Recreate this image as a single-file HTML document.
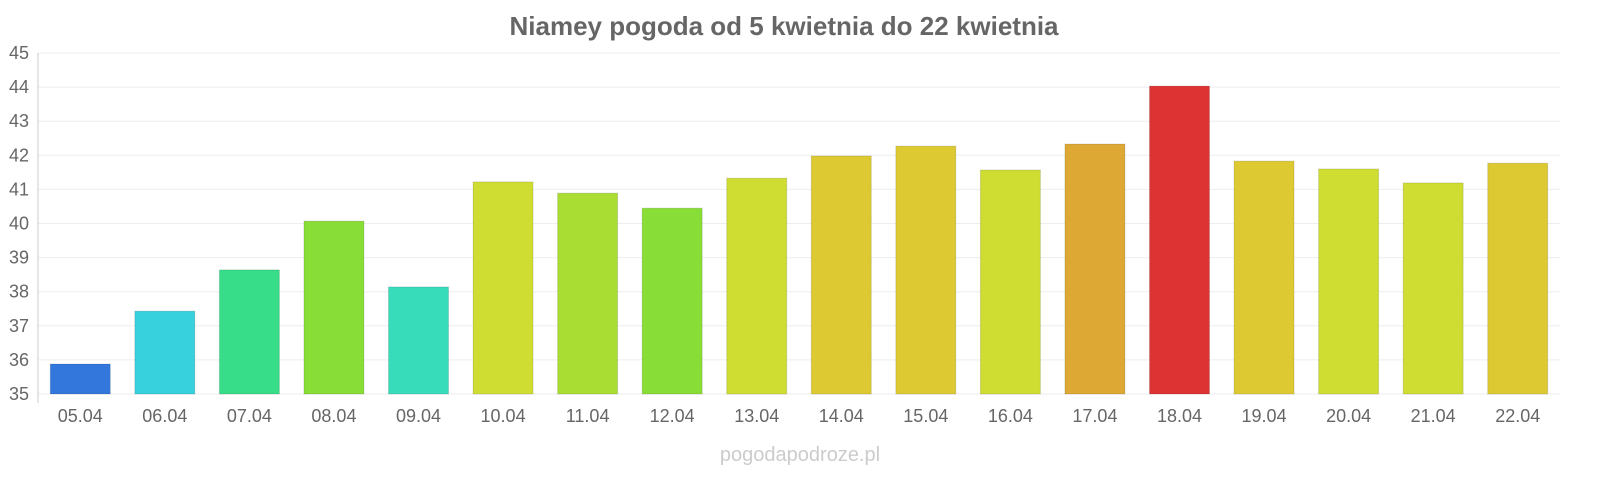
<!DOCTYPE html>
<html><head><meta charset="utf-8"><style>
body{margin:0;background:#fff;width:1600px;height:480px;overflow:hidden;font-family:"Liberation Sans",sans-serif}
</style></head><body>
<svg id="chart" width="1600" height="480" xmlns="http://www.w3.org/2000/svg">
<text x="784" y="35" text-anchor="middle" font-size="26" font-weight="bold" fill="#666">Niamey pogoda od 5 kwietnia do 22 kwietnia</text>
<g id="grid"></g><g id="bars"></g><g id="xl"></g><g id="yl"></g>
<line x1="38" y1="53" x2="38" y2="403" stroke="#ccc"/>
<text x="800" y="461" text-anchor="middle" font-size="20" fill="#ccc">pogodapodroze.pl</text>
</svg>
<script>
const categories=["05.04","06.04","07.04","08.04","09.04","10.04","11.04","12.04","13.04","14.04","15.04","16.04","17.04","18.04","19.04","20.04","21.04","22.04"];
const values=[35.88,37.43,38.64,40.07,38.14,41.22,40.89,40.45,41.33,41.98,42.27,41.57,42.33,44.03,41.83,41.60,41.19,41.77];
const colors=["#3377dd","#37d0dd","#37dd88","#88dd37","#37ddbb","#cfdd33","#aadd33","#88dd37","#cfdd33","#ddca33","#ddca33","#cfdd33","#dda833","#dd3333","#ddca33","#cfdd33","#cfdd33","#ddca33"];
const yTicks=[35,36,37,38,39,40,41,42,43,44,45];
const NS="http://www.w3.org/2000/svg";
const x0=38,x1=1560,yMin=35,yMax=45,py0=394,py1=53;
const band=(x1-x0)/categories.length;
const y=v=>py0-(v-yMin)/(yMax-yMin)*(py0-py1);
const xc=i=>x0+band*(i+0.5);
function mk(t,a,p){const e=document.createElementNS(NS,t);for(const k in a)e.setAttribute(k,a[k]);document.getElementById(p).appendChild(e);return e;}
yTicks.forEach(t=>{
 const l=mk("line",{x1:x0,x2:x1,y1:y(t),y2:y(t),stroke:"#eee"},"grid");
 
 
 const tx=mk("text",{x:29,y:y(t)+6,"text-anchor":"end","font-size":18,fill:"#666"},"yl");
 tx.textContent=t;
 
 
});
categories.forEach((c,i)=>{
 const w=60;
 const r=mk("rect",{x:xc(i)-w/2,y:y(values[i]),width:w,height:py0-y(values[i]),fill:colors[i],stroke:"rgba(0,0,0,0.12)"},"bars");
 
 
 const tx=mk("text",{x:xc(i),y:422,"text-anchor":"middle","font-size":18,fill:"#666"},"xl");
 tx.textContent=c;
 
 
});
</script>
</body></html>
